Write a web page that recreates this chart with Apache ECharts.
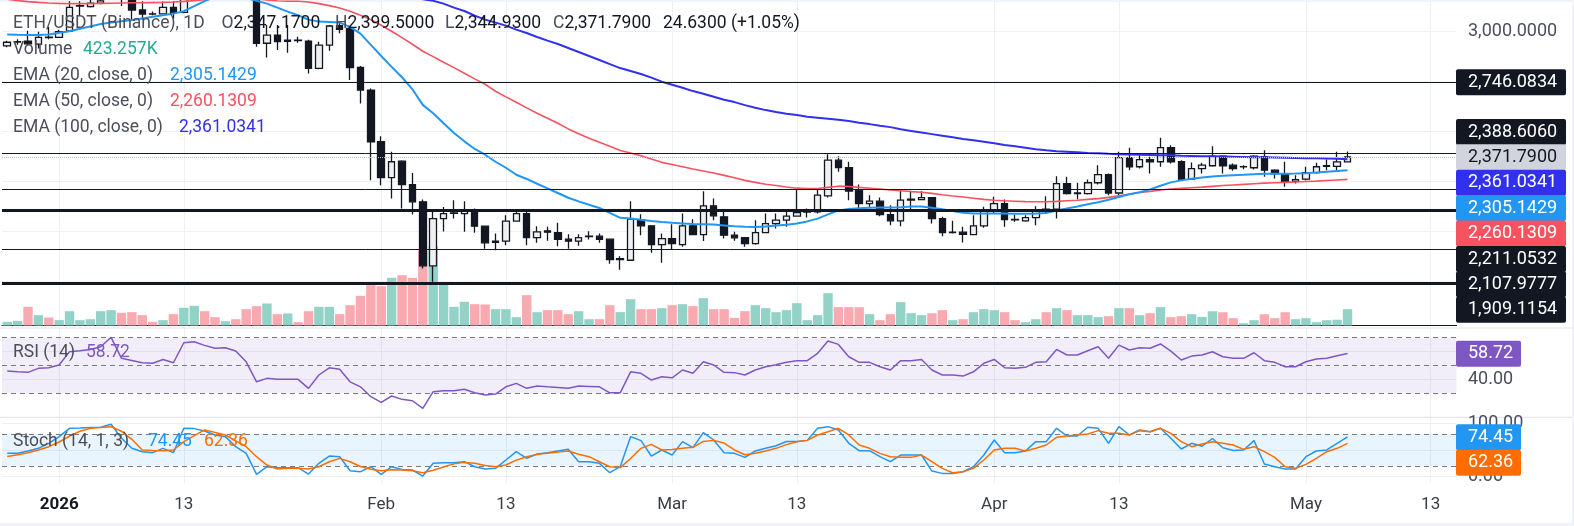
<!DOCTYPE html>
<html>
<head>
<meta charset="utf-8">
<script src="https://cdn.jsdelivr.net/npm/echarts@6/dist/echarts.min.js"></script>
<style>
  html, body { margin: 0; padding: 0; background: #f0f3fa; }
  #paper { position: absolute; left: 0; top: 2px; width: 1572px; height: 521px; background: #fff; }
  #chart { position: absolute; left: 0; top: 0; width: 1574px; height: 526px; }
</style>
</head>
<body>
<div id="paper"></div>
<div id="chart"></div>
<script>
// daily candles, 27 Dec 2025 -> 5 May 2026
const opens = [2927,2946,2950,2936,2970,2969,3001,3125,3123,3140,
  3160,3290,3170,3106,3087,3087,3119,3094,3250,3290,
  3250,3230,3240,3210,3180,2940,2981,2950,2956,2951,
  2814,2931,3028,3014,2819,2706,2448,2269,2351,2234,
  2148,1828,2064,2090,2089,2103,2026,1945,1951,2051,
  2089,1969,2003,1994,1961,1951,1974,1976,1961,1859,
  1856,2059,2028,1934,1964,1934,2028,1984,2128,2073,
  1981,1969,1939,1994,2039,2056,2076,2096,2098,2178,
  2356,2319,2206,2139,2151,2084,2053,2156,2159,2169,
  2064,1994,1996,1984,2028,2106,2139,2060,2053,2069,
  2111,2111,2239,2189,2189,2243,2284,2192,2369,2323,
  2359,2348,2419,2348,2261,2314,2328,2376,2331,2322,
  2318,2373,2306,2289,2250,2261,2294,2325,2325,2347.17];
const closes = [2945,2948,2937,2969,2968,2998,3119,3128,3140,3152,
  3290,3170,3106,3086,3086,3119,3094,3250,3290,3250,
  3230,3240,3210,3180,2940,2981,2948,2956,2953,2814,
  2931,3026,3010,2818,2706,2448,2269,2348,2234,2148,
  1828,2064,2089,2092,2106,2026,1943,1951,2051,2089,
  1969,1998,1996,1960,1951,1969,1976,1960,1859,1864,
  2061,2028,1934,1964,1939,2028,1984,2128,2078,1981,
  1968,1939,1994,2039,2056,2076,2094,2101,2181,2356,
  2319,2202,2139,2151,2084,2053,2156,2161,2169,2064,
  1994,1996,1985,2028,2103,2139,2059,2058,2069,2109,
  2109,2239,2189,2192,2243,2284,2192,2369,2323,2359,
  2348,2419,2348,2261,2314,2331,2376,2328,2314,2324,
  2376,2306,2289,2248,2259,2294,2323,2328,2347.16,2371.79];
const lows = [2920,2932,2930,2914,2960,2966,2998,3080,3118,3135,
  3158,3126,3056,3059,3080,3085,3064,3090,3230,3220,
  3200,3215,3190,3165,2922,2869,2906,2893,2942,2789,
  2810,2903,2990,2756,2639,2256,2231,2164,2114,2084,
  1815,1748,1999,2064,1998,1993,1914,1906,1931,2049,
  1931,1943,1953,1926,1914,1928,1959,1943,1839,1809,
  1855,1981,1894,1843,1909,1923,1981,1952,2056,1964,
  1953,1923,1934,1993,2014,2023,2074,2069,2089,2170,
  2298,2156,2103,2123,2076,2031,2026,2109,2156,2039,
  1976,1989,1945,1981,2018,2089,2023,2048,2048,2031,
  2089,2064,2184,2161,2184,2234,2181,2181,2306,2314,
  2289,2323,2339,2256,2259,2289,2323,2289,2303,2311,
  2309,2273,2264,2223,2239,2256,2289,2306,2306,2344.93];
const highs = [2952,2960,3002,2998,3022,3008,3150,3150,3165,3200,
  3310,3300,3180,3150,3098,3148,3150,3280,3340,3300,
  3260,3250,3250,3215,3190,3031,3031,3031,2972,2958,
  2948,3031,3050,3016,2826,2714,2476,2398,2356,2292,
  2160,2098,2122,2156,2151,2114,2030,1989,2081,2109,
  2103,2026,2023,2043,1986,1986,2001,1989,1963,1876,
  2151,2086,2031,1989,2036,2089,2061,2201,2164,2098,
  1998,1972,2056,2089,2089,2098,2209,2114,2209,2386,
  2376,2348,2234,2181,2169,2131,2203,2203,2201,2172,
  2073,2053,2023,2081,2123,2173,2159,2084,2081,2126,
  2176,2276,2273,2243,2259,2331,2289,2398,2418,2389,
  2373,2468,2431,2356,2344,2343,2426,2380,2339,2331,
  2381,2406,2311,2348,2281,2323,2343,2359,2398,2399.5];
// volume in thousands
const volumes = [95,121,485,268,208,139,372,139,164,372,
  398,329,346,268,95,139,294,459,511,372,
  216,113,164,424,502,571,294,312,87,372,
  485,485,294,528,770,1047,1021,1238,1307,1238,
  1930,2060,1108,485,615,554,545,424,424,216,
  788,346,398,398,294,372,164,164,528,346,
  684,424,424,450,528,554,502,710,424,424,
  199,372,528,450,346,398,580,139,268,840,
  476,476,476,294,139,294,606,320,268,320,
  398,139,164,346,424,398,346,139,87,164,
  346,450,398,268,268,216,242,450,450,268,
  320,476,216,242,294,223,371,345,190,60,
  138,293,190,345,164,190,86,138,150,423.257];
const ema20 = [2984,2982,2981,2981,2984,2992,3000,3012,3024,3036,
  3044,3050,3056,3064,3072,3080,3088,3100,3125,3150,
  3172,3178,3175,3166,3152,3138,3118,3098,3080,3058,
  3048,3046,3043,3022,2988,2932,2876,2822,2770,2710,
  2632,2590,2540,2492,2450,2412,2383,2348,2318,2283,
  2262,2238,2215,2192,2168,2150,2133,2117,2093,2068,
  2064,2058,2052,2047,2043,2040,2037,2036,2034,2030,
  2026,2023,2022,2025,2029,2033,2040,2050,2064,2085,
  2105,2112,2116,2118,2119,2119,2121,2124,2124,2118,
  2111,2102,2093,2089,2089,2089,2089,2088,2088,2089,
  2092,2104,2114,2124,2136,2146,2158,2172,2186,2196,
  2210,2228,2245,2255,2263,2269,2274,2278,2281,2283,
  2286,2288,2288,2288,2289,2291,2294,2298,2302,2305.1429];
const ema50 = [3160,3153,3148,3144,3141,3139,3138,3138,3138,3139,
  3140,3141,3142,3142,3143,3144,3146,3149,3153,3157,
  3162,3166,3168,3169,3162,3156,3152,3150,3150,3146,
  3138,3128,3116,3100,3080,3058,3030,3000,2968,2935,
  2900,2873,2845,2818,2790,2762,2735,2700,2672,2645,
  2617,2590,2565,2540,2512,2488,2465,2445,2425,2404,
  2392,2378,2362,2345,2334,2323,2312,2302,2292,2280,
  2268,2255,2245,2236,2229,2222,2216,2214,2214,2220,
  2226,2224,2220,2216,2212,2207,2203,2199,2196,2190,
  2183,2177,2172,2166,2160,2156,2153,2151,2149,2148,
  2148,2150,2153,2156,2160,2164,2170,2178,2186,2194,
  2200,2207,2212,2215,2218,2221,2225,2229,2232,2235,
  2238,2241,2243,2245,2247,2249,2251,2254,2257,2260.1309];
const ema100 = [3420,3411,3402,3393,3385,3377,3371,3366,3361,3357,
  3353,3348,3343,3338,3334,3330,3327,3325,3324,3323,
  3322,3321,3320,3318,3312,3305,3298,3291,3284,3276,
  3269,3263,3256,3248,3238,3226,3213,3201,3188,3175,
  3160,3152,3138,3118,3101,3078,3058,3043,3028,3008,
  2991,2971,2953,2936,2916,2896,2876,2856,2836,2816,
  2801,2786,2768,2748,2733,2718,2701,2688,2673,2658,
  2646,2631,2618,2606,2596,2588,2581,2573,2568,2563,
  2558,2551,2543,2536,2528,2521,2510,2502,2494,2486,
  2478,2470,2462,2455,2448,2440,2432,2425,2418,2411,
  2405,2401,2398,2395,2392,2391,2388,2386,2384,2383,
  2382,2381,2380,2378,2377,2376,2375,2374,2373,2372,
  2371,2370,2369,2368,2367,2366,2365,2364,2363,2361.0341];
const rsi = [46.0,45.5,45.1,48.0,48.4,50.4,60.0,60.6,61.5,63.5,
  70.3,55.2,53.6,52.0,51.6,54.4,52.0,66.4,67.1,64.5,
  62.4,62.8,60.4,52.7,38.3,40.8,40.1,40.1,40.1,33.6,
  43.2,48.4,47.3,38.3,34.7,27.6,23.5,28.1,25.7,24.7,
  19.2,31.2,31.9,31.9,32.9,30.4,28.8,29.5,34.7,37.2,
  33.6,35.3,34.7,34.3,33.6,35.3,35.0,34.7,30.4,30.4,
  45.5,44.4,39.6,41.9,41.2,46.8,44.4,52.7,50.4,45.1,
  44.9,43.2,46.8,49.1,50.6,52.4,53.5,53.5,58.8,67.6,
  65.2,56.3,52.3,52.3,49.1,46.8,53.5,53.5,54.4,46.8,
  43.2,43.2,42.4,45.5,51.6,54.4,48.4,48.0,48.7,52.3,
  52.7,61.6,57.6,57.6,60.6,63.5,55.2,64.7,61.2,62.8,
  62.4,65.5,60.4,54.0,56.8,57.6,59.9,56.3,55.2,55.2,
  59.2,53.5,52.3,49.1,49.1,52.7,54.7,55.2,57.1,58.72];
const stochK = [43.7,43.7,48.0,53.1,62.5,75.0,90.6,91.0,92.0,92.5,
  98.1,71.9,53.1,46.8,45.0,53.1,45.0,90.6,90.0,85.6,
  78.1,75.0,56.2,43.7,4.4,18.7,16.9,16.9,16.9,5.0,
  25.0,38.7,37.5,11.2,9.4,18.7,4.4,18.7,13.7,12.5,
  1.2,25.0,26.2,26.2,28.1,18.7,14.4,15.6,31.2,46.8,
  34.3,42.5,45.0,48.1,51.2,28.1,28.1,25.0,7.5,18.7,
  75.0,67.5,38.7,50.0,40.6,65.6,54.3,82.5,68.7,45.0,
  43.7,36.2,48.1,53.1,58.0,66.0,66.0,68.0,90.6,93.7,
  87.5,62.5,48.7,48.7,37.5,28.1,40.6,40.6,40.6,10.6,
  6.2,6.2,9.4,18.7,40.6,68.7,45.0,45.0,48.1,65.6,
  65.6,90.6,76.2,76.2,92.5,90.6,62.5,93.7,78.1,87.5,
  84.3,90.6,71.9,51.8,62.5,57.0,71.5,54.3,49.0,50.0,
  67.5,23.8,18.7,14.4,14.4,37.5,48.1,50.0,62.5,74.45];
const stochD = [38,41,45,50,56.2,65,76,85,90.6,92,
  93.7,85,70,50,49,48.7,50,65.6,77,87.5,
  83,78.1,67,56.2,37.5,21.8,14.4,16,16,14.4,
  18.7,28,34.3,28,19,14,11,13,12.5,11,
  7.5,12,18,24,26.8,25,21,18.7,22,31,
  37.5,41.8,44,46,48.1,42,37.5,28,18.7,17,
  34,53.1,60.6,50,51,53.1,55,66,68,63,
  50,41,43.7,48,53.1,60,65.6,68,78.1,84.3,
  90.6,78.1,59.3,53.1,43.7,37.5,36.2,36.2,40.6,28.1,
  15.6,7.5,9.4,15.6,31.2,50,53.1,53.1,48.1,53.1,
  59.3,73.7,76.2,78.1,80,86.2,81.2,81.2,78.1,86.2,
  84.3,90.6,81.2,65.6,56.2,61.2,65.6,62.5,59.3,51.2,
  56.2,46.8,36.2,18.7,15.6,23.1,34.4,46.8,53.1,62.36];
// drawn horizontal levels (price)
const levels = [2746.0834, 2388.6060, 2211.0532, 2107.9777, 1909.1154, 1741];
const thickLevels = [2107.9777, 1741];
const labelledLevels = [2746.0834, 2388.6060, 2211.0532, 2107.9777, 1909.1154];
const priceTicks = [3000, 2750, 2500, 2250, 2000, 1750];
const rsiTicks = [60, 40];
const stochTicks = [100, 50, 0];

// one category per calendar day, 140 days from 27 Dec 2025
const categories = [];
(function () {
  const d = new Date(Date.UTC(2025, 11, 27));
  for (let k = 0; k < 140; k++) {
    categories.push(d.toISOString().slice(0, 10));
    d.setUTCDate(d.getUTCDate() + 1);
  }
})();
const monthNames = ['Jan','Feb','Mar','Apr','May','Jun','Jul','Aug','Sep','Oct','Nov','Dec'];
const isTick = c => c.endsWith('-01') || c.endsWith('-13');
const tickCats = categories.filter(isTick);

const FONT = 'Roboto, "Noto Sans", sans-serif';
const DARK = '#131722', GRAY = '#4c4f5a', GRID = '#eef0f4';
const UP = '#92d2c7', DOWN = '#f9a9b0';
const C20 = '#2196f3', C50 = '#f7525f', C100 = '#3030ee';
const CRSI = '#7e57c2', CK = '#2196f3', CD = '#ff6d00';
const PITCH = 10.39, LEFT = 2;
const W = PITCH * categories.length;

const fmt = (v, n) => v.toLocaleString('en-US', {minimumFractionDigits: n, maximumFractionDigits: n});

const candleData = opens.map((o, i) => [o, closes[i], lows[i], highs[i]]);
const volData = volumes.map((v, i) => ({value: v, itemStyle: {color: closes[i] >= opens[i] ? UP : DOWN}}));
const nulls = categories.map(() => null);

function vLines() {
  return tickCats.map(c => ({xAxis: c}));
}
function gridMark(hVals) {
  return {
    silent: true, symbol: 'none', z: 0, animation: false,
    label: {show: false},
    lineStyle: {color: GRID, width: 1, type: 'solid'},
    data: vLines().concat(hVals.map(v => ({yAxis: v})))
  };
}
function dashMark(vals) {
  return {
    silent: true, symbol: 'none', z: 4, animation: false,
    label: {show: false},
    lineStyle: {color: '#787b86', width: 1, type: [5, 4]},
    data: vals.map(v => ({yAxis: v}))
  };
}

const xBase = {
  type: 'category', data: categories, boundaryGap: true,
  axisLine: {show: false}, axisTick: {show: false},
  axisLabel: {show: false}, splitLine: {show: false}
};

const chart = echarts.init(document.getElementById('chart'));
chart.setOption({
  animation: false,
  textStyle: {fontFamily: FONT},
  grid: [
    {left: LEFT, top: 0, width: W, height: 325.5},
    {left: LEFT, top: 240, width: W, height: 85.5},
    {left: LEFT, top: 328, width: W, height: 89},
    {left: LEFT, top: 417.3, width: W, height: 65.7}
  ],
  xAxis: [
    Object.assign({}, xBase, {gridIndex: 0, axisLine: {show: true, lineStyle: {color: DARK, width: 1}}}),
    Object.assign({}, xBase, {gridIndex: 1}),
    Object.assign({}, xBase, {gridIndex: 2}),
    Object.assign({}, xBase, {
      gridIndex: 3,
      axisLabel: {
        show: true, margin: 13, fontSize: 17, color: '#3a3d46', fontFamily: FONT,
        interval: (i, v) => isTick(v),
        formatter: v => {
          const m = +v.slice(5, 7), d = +v.slice(8, 10);
          if (d === 1) return m === 1 ? '{y|' + v.slice(0, 4) + '}' : monthNames[m - 1];
          return String(d);
        },
        rich: {y: {fontWeight: 'bold', fontSize: 17, color: DARK, fontFamily: FONT}}
      }
    })
  ],
  yAxis: [
    {gridIndex: 0, type: 'value', min: 1530, max: 3156, show: false},
    {gridIndex: 1, type: 'value', min: 0, max: 2220, show: false},
    {gridIndex: 2, type: 'value', min: 13, max: 77, show: false},
    {gridIndex: 3, type: 'value', min: -11.8, max: 111.2, show: false}
  ],
  series: [
    {
      type: 'line', xAxisIndex: 0, yAxisIndex: 0, data: nulls, silent: true, z: 0,
      markLine: gridMark(priceTicks)
    },
    {
      type: 'bar', xAxisIndex: 1, yAxisIndex: 1, data: volData, barWidth: 9.4, z: 1, silent: true
    },
    {
      type: 'candlestick', xAxisIndex: 0, yAxisIndex: 0, data: candleData, barWidth: 7, z: 3, silent: true,
      itemStyle: {color: '#f0f0f0', color0: DARK, borderColor: DARK, borderColor0: DARK, borderWidth: 1.3},
      markLine: {
        silent: true, symbol: 'none', z: 5, animation: false, label: {show: false},
        data: levels.map(v => ({yAxis: v, lineStyle: {color: DARK, width: thickLevels.includes(v) ? 3 : 1, type: 'solid'}}))
          .concat([{yAxis: closes[closes.length - 1], lineStyle: {color: '#b8bbc4', width: 1, type: 'dotted'}}])
      }
    },
    {type: 'line', xAxisIndex: 0, yAxisIndex: 0, data: ema100, showSymbol: false, z: 4, silent: true, lineStyle: {color: C100, width: 2}},
    {type: 'line', xAxisIndex: 0, yAxisIndex: 0, data: ema50, showSymbol: false, z: 4, silent: true, lineStyle: {color: C50, width: 1.6}},
    {type: 'line', xAxisIndex: 0, yAxisIndex: 0, data: ema20, showSymbol: false, z: 4, silent: true, lineStyle: {color: C20, width: 2}},
    {
      type: 'line', xAxisIndex: 2, yAxisIndex: 2, data: nulls, silent: true, z: 0,
      markLine: gridMark(rsiTicks)
    },
    {
      type: 'line', xAxisIndex: 2, yAxisIndex: 2, data: rsi, showSymbol: false, z: 5, silent: true,
      lineStyle: {color: CRSI, width: 1.5},
      markArea: {silent: true, z: 1, itemStyle: {color: 'rgba(126,87,194,0.1)'}, data: [[{yAxis: 70}, {yAxis: 30}]]},
      markLine: dashMark([70, 50, 30])
    },
    {
      type: 'line', xAxisIndex: 3, yAxisIndex: 3, data: nulls, silent: true, z: 0,
      markLine: gridMark(stochTicks)
    },
    {
      type: 'line', xAxisIndex: 3, yAxisIndex: 3, data: stochK, showSymbol: false, z: 5, silent: true,
      lineStyle: {color: CK, width: 1.5},
      markArea: {silent: true, z: 1, itemStyle: {color: 'rgba(33,150,243,0.1)'}, data: [[{yAxis: 80}, {yAxis: 20}]]},
      markLine: dashMark([80, 20])
    },
    {type: 'line', xAxisIndex: 3, yAxisIndex: 3, data: stochD, showSymbol: false, z: 6, silent: true, lineStyle: {color: CD, width: 1.5}}
  ]
});

// ---- legends, pane separators and the right-hand price scale ----
const n = closes.length - 1;
const g = [];
function txt(x, y, text, fill, size, extra) {
  g.push(Object.assign({
    type: 'text', x: x, y: y, z: 100, silent: true,
    style: Object.assign({text: text, fill: fill, fontSize: size || 17.5, fontFamily: FONT, align: 'left', verticalAlign: 'middle'}, extra || {})
  }));
}
function ohlc(x, letter, v) {
  txt(x, 24, '{l|' + letter + '}{v|' + fmt(v, 4) + '}', DARK, 17.5, {
    rich: {l: {fill: GRAY, fontSize: 17.5, fontFamily: FONT}, v: {fill: DARK, fontSize: 17.5, fontFamily: FONT}}
  });
}
txt(13, 24, 'ETH/USDT (Binance), 1D', GRAY);
ohlc(221.5, 'O', opens[n]);
ohlc(335, 'H', highs[n]);
ohlc(445, 'L', lows[n]);
ohlc(553, 'C', closes[n]);
const chg = closes[n] - closes[n - 1];
txt(663, 24, fmt(chg, 4) + ' (+' + (chg / closes[n - 1] * 100).toFixed(2) + '%)', DARK);
txt(13, 50, 'Volume', GRAY);
txt(83, 50, volumes[n].toFixed(3) + 'K', '#22ab94');
txt(13, 76, 'EMA (20, close, 0)', GRAY);
txt(170, 76, fmt(ema20[n], 4), C20);
txt(13, 102, 'EMA (50, close, 0)', GRAY);
txt(170, 102, fmt(ema50[n], 4), C50);
txt(13, 128, 'EMA (100, close, 0)', GRAY);
txt(179, 128, fmt(ema100[n], 4), C100);
txt(13, 352.5, 'RSI (14)', GRAY);
txt(86, 352.5, rsi[n].toFixed(2), CRSI);
txt(13, 441.5, 'Stoch (14, 1, 3)', GRAY);
txt(148, 441.5, stochK[n].toFixed(2), CK);
txt(204, 441.5, stochD[n].toFixed(2), CD);

[328, 417.3].forEach(y => g.push({type: 'line', z: 50, silent: true, shape: {x1: 0, y1: y, x2: 1572, y2: y}, style: {stroke: '#e0e3eb', lineWidth: 1}}));

const AX = 1456, TX = 1468, BH = 25.4;
const py = (axis, v) => chart.convertToPixel({yAxisIndex: axis}, v);
priceTicks.forEach(v => txt(TX, py(0, v), fmt(v, 4), GRAY, 18));
rsiTicks.forEach(v => txt(TX, py(2, v), fmt(v, 2), GRAY, 18));
stochTicks.forEach(v => txt(TX, py(3, v), fmt(v, 2), GRAY, 18));

function stack(items, anchor, axis, width, digits) {
  items.sort((a, b) => b.v - a.v);
  items.forEach(it => { it.ny = py(axis, it.v); });
  const a = items.findIndex(it => it.v === anchor);
  items[a].y = items[a].ny;
  for (let j = a - 1; j >= 0; j--) items[j].y = Math.min(items[j].ny, items[j + 1].y - BH);
  for (let j = a + 1; j < items.length; j++) items[j].y = Math.max(items[j].ny, items[j - 1].y + BH);
  items.forEach(it => {
    g.push({type: 'rect', z: 110, silent: true, shape: {x: AX, y: it.y - BH / 2, width: width, height: BH + 0.6, r: 2}, style: {fill: it.bg}});
    g.push({type: 'text', z: 120, silent: true, x: TX, y: it.y + 0.5,
      style: {text: fmt(it.v, digits), fill: it.fg, fontSize: 18, fontFamily: FONT, align: 'left', verticalAlign: 'middle'}});
  });
}
stack(labelledLevels.map(v => ({v: v, bg: DARK, fg: '#fff'})).concat([
  {v: closes[n], bg: '#d1d4dc', fg: DARK},
  {v: ema100[n], bg: C100, fg: '#fff'},
  {v: ema20[n], bg: C20, fg: '#fff'},
  {v: ema50[n], bg: C50, fg: '#fff'}
]), closes[n], 0, 110, 4);
stack([{v: rsi[n], bg: CRSI, fg: '#fff'}], rsi[n], 2, 65, 2);
stack([{v: stochK[n], bg: CK, fg: '#fff'}, {v: stochD[n], bg: CD, fg: '#fff'}], stochK[n], 3, 65, 2);

chart.setOption({graphic: g});
</script>
</body>
</html>
